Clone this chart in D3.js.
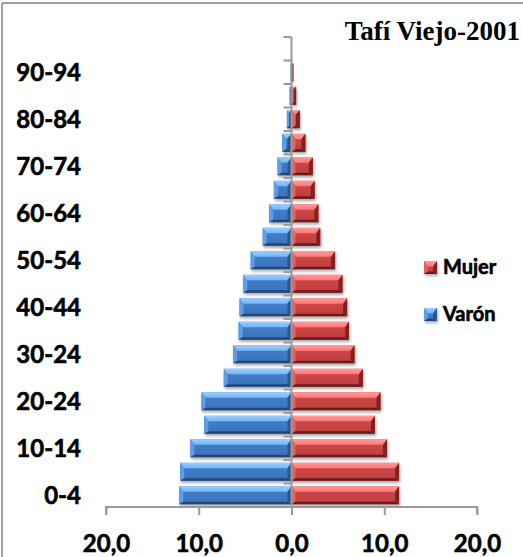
<!DOCTYPE html>
<html>
<head>
<meta charset="utf-8">
<script src="https://cdn.jsdelivr.net/npm/d3@7"></script>
<style>
  html, body { margin: 0; padding: 0; background: #fff; }
  svg { display: block; }
  .lbl { font-family: Lato, 'Open Sans', sans-serif; font-weight: 700; fill: #000; stroke: #000; stroke-width: 0.6px; }
</style>
</head>
<body>
<svg id="chart" width="523" height="557"></svg>
<script>
// Age groups, youngest first
const ageGroups = ["0-4","5-9","10-14","15-19","20-24","25-29","30-24","35-39","40-44","45-49",
                   "50-54","55-59","60-64","65-69","70-74","75-79","80-84","85-89","90-94","95+"];
// Share of population (%) by sex
const varon = [12.1, 12.0, 10.9, 9.4, 9.7, 7.3, 6.3, 5.7, 5.6, 5.2, 4.4, 3.1, 2.4, 1.9, 1.5, 1.0, 0.5, 0.2, 0.1, 0.0];
const mujer = [11.6, 11.6, 10.3, 9.0, 9.6, 7.7, 6.8, 6.2, 6.0, 5.5, 4.7, 3.1, 2.9, 2.5, 2.3, 1.5, 0.9, 0.5, 0.2, 0.0];
const xTicks = [-20, -10, 0, 10, 20];
const seriesNames = ["Mujer", "Varón"];
const title = "Tafí Viejo-2001";

const svg = d3.select("#chart");
const W = 523, H = 557;

const x = d3.scaleLinear().domain([-20, 20]).range([106, 477]);
const y = d3.scaleBand().domain(ageGroups.slice().reverse()).range([37, 507]).paddingInner(0.24).paddingOuter(0.12);

// Bevelled bar palettes
const pal = {
  blue: { face: "#3a73bb", faceTop: "#4381cd", top: "#74b5f6", topEdge: "#9ccdff", left: "#5d9ee6", bottom: "#234677", right: "#2b568e" },
  red:  { face: "#c03e3d", faceTop: "#d04a49", top: "#ff7777", topEdge: "#ff9a9a", left: "#e86060", bottom: "#6a1b1b", right: "#802424" }
};

const defs = svg.append("defs");
const shadow = defs.append("filter").attr("id", "shadow").attr("x", "-10%").attr("y", "-30%").attr("width", "130%").attr("height", "180%");
shadow.append("feGaussianBlur").attr("in", "SourceAlpha").attr("stdDeviation", 1.8);
shadow.append("feOffset").attr("dx", 1).attr("dy", 2).attr("result", "b");
shadow.append("feComponentTransfer").append("feFuncA").attr("type", "linear").attr("slope", 0.35);
const m = shadow.append("feMerge");
m.append("feMergeNode");
m.append("feMergeNode").attr("in", "SourceGraphic");

["blue", "red"].forEach(k => {
  const g = defs.append("linearGradient").attr("id", "face-" + k).attr("x1", 0).attr("y1", 0).attr("x2", 0).attr("y2", 1);
  g.append("stop").attr("offset", "0%").attr("stop-color", pal[k].faceTop);
  g.append("stop").attr("offset", "100%").attr("stop-color", pal[k].face);
  const t = defs.append("linearGradient").attr("id", "top-" + k).attr("x1", 0).attr("y1", 0).attr("x2", 0).attr("y2", 1);
  t.append("stop").attr("offset", "0%").attr("stop-color", pal[k].topEdge);
  t.append("stop").attr("offset", "100%").attr("stop-color", pal[k].top);
});

function bevelBar(g, x0, y0, w, h, k) {
  if (w <= 0) return;
  const p = pal[k];
  const bt = Math.min(5.5, w / 2), bb = Math.min(2.5, w / 2), bs = Math.min(4, w / 2);
  const grp = g.append("g").attr("filter", "url(#shadow)");
  grp.append("rect").attr("x", x0).attr("y", y0).attr("width", w).attr("height", h).attr("fill", "url(#face-" + k + ")");
  const poly = (pts, fill) => grp.append("polygon").attr("points", pts.map(q => q.join(",")).join(" ")).attr("fill", fill);
  // top slant
  poly([[x0, y0], [x0 + w, y0], [x0 + w - bs, y0 + bt], [x0 + bs, y0 + bt]], "url(#top-" + k + ")");
  // left slant
  poly([[x0, y0], [x0 + bs, y0 + bt], [x0 + bs, y0 + h - bb], [x0, y0 + h]], p.left);
  // right slant
  poly([[x0 + w, y0], [x0 + w - bs, y0 + bt], [x0 + w - bs, y0 + h - bb], [x0 + w, y0 + h]], p.right);
  // bottom slant
  poly([[x0, y0 + h], [x0 + w, y0 + h], [x0 + w - bs, y0 + h - bb], [x0 + bs, y0 + h - bb]], p.bottom);
}

// Frame
svg.append("line").attr("x1", 2).attr("y1", 3).attr("x2", W).attr("y2", 3).attr("stroke", "#a0a0a0").attr("stroke-width", 2);
svg.append("line").attr("x1", 2).attr("y1", 3).attr("x2", 2).attr("y2", H).attr("stroke", "#a0a0a0").attr("stroke-width", 2);

// Bars
const bars = svg.append("g");
ageGroups.forEach((a, i) => {
  const y0 = y(a), h = y.bandwidth();
  bevelBar(bars, x(-varon[i]), y0, x(0) - x(-varon[i]), h, "blue");
  bevelBar(bars, x(0), y0, x(mujer[i]) - x(0), h, "red");
});

// Vertical axis at zero with ticks between age groups
const axisColor = "#9a9a9a";
const yTop = y.range()[0], yBot = y.range()[1];
svg.append("line").attr("x1", x(0)).attr("x2", x(0)).attr("y1", yTop).attr("y2", yBot)
  .attr("stroke", axisColor).attr("stroke-width", 2);
d3.range(ageGroups.length + 1).forEach(j => {
  const yy = yTop + j * (yBot - yTop) / ageGroups.length;
  svg.append("line").attr("x1", x(0) - 8).attr("x2", x(0)).attr("y1", yy).attr("y2", yy)
    .attr("stroke", axisColor).attr("stroke-width", 2);
});

// Horizontal axis
const xAxis = d3.axisBottom(x).tickValues(xTicks).tickSize(8).tickPadding(20)
  .tickFormat(v => d3.format(".1f")(Math.abs(v)).replace(".", ","));
const gx = svg.append("g").attr("transform", `translate(0,${yBot})`).call(xAxis);
gx.select(".domain").attr("stroke", axisColor).attr("stroke-width", 2).attr("d", `M${x(-20)},8V0H${x(20)}V8`);
gx.selectAll(".tick line").attr("stroke", axisColor).attr("stroke-width", 2);
gx.selectAll(".tick text").attr("class", "lbl").style("font-size", "24px");

// Age group labels (every other group)
svg.append("g").selectAll("text").data(ageGroups.filter((a, i) => i % 2 === 0)).join("text")
  .attr("class", "lbl")
  .attr("x", 81).attr("y", a => y(a) + y.bandwidth() / 2).attr("dy", "0.36em")
  .attr("text-anchor", "end").style("font-size", "24px").text(a => a);

// Title
svg.append("text").attr("x", 520).attr("y", 40).attr("text-anchor", "end")
  .style("font-family", "'Liberation Serif', 'Times New Roman', serif").style("font-weight", 700)
  .style("font-size", "27px").text(title);

// Legend
const legend = svg.append("g");
[["Mujer", "red", 261], ["Varón", "blue", 308]].forEach(([name, k, yy]) => {
  bevelBar(legend, 424, yy, 13, 13, k);
  legend.append("text").attr("class", "lbl").attr("x", 443).attr("y", yy + 13)
    .style("font-size", "20px").text(name);
});
</script>
</body>
</html>
